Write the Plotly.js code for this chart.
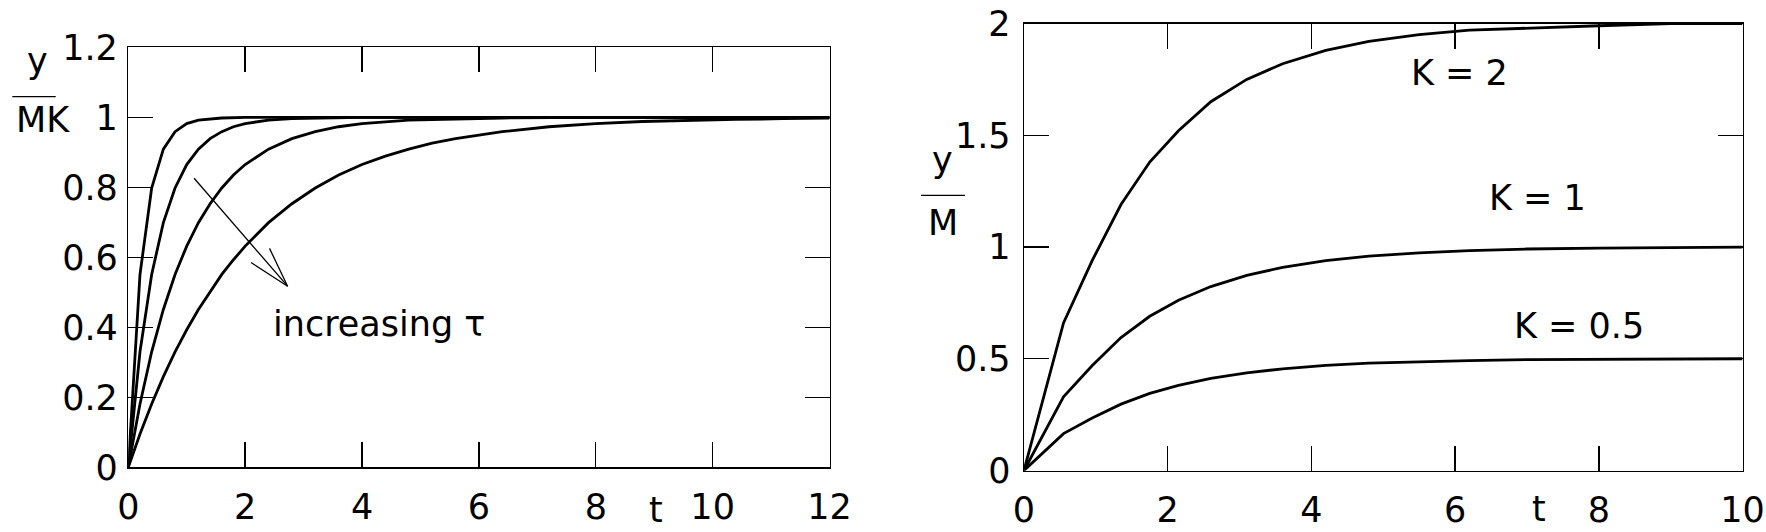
<!DOCTYPE html>
<html>
<head>
<meta charset="utf-8">
<script src="https://cdn.plot.ly/plotly-3.0.1.min.js"></script>
<style>html,body{margin:0;padding:0;background:#fff;}#chart{width:1766px;height:532px;}</style>
</head>
<body>
<div id="chart"></div>
<script>
// Left panel: y/(MK) vs t for four time constants (fastest to slowest)
const tA = [0,0.2,0.4,0.6,0.8,1.0,1.2,1.4,1.6,2.0,12];
const yA = [0,0.551,0.798,0.909,0.959,0.982,0.992,0.996,0.998,1.0,1.0];
const tB = [0,0.2,0.4,0.6,0.8,1.0,1.2,1.4,1.6,1.8,2.0,2.4,2.8,3.2,4.0,12];
const yB = [0,0.330,0.551,0.699,0.798,0.865,0.909,0.939,0.959,0.973,0.982,0.992,0.996,0.998,1.0,1.0];
const tC = [0,0.2,0.4,0.6,0.8,1.0,1.2,1.4,1.6,1.8,2.0,2.4,2.8,3.2,3.6,4.0,4.8,5.6,6.4,8.0,12];
const yC = [0,0.181,0.330,0.451,0.551,0.632,0.699,0.753,0.798,0.835,0.865,0.909,0.939,0.959,0.973,0.982,0.992,0.996,0.998,1.0,1.0];
const tD = [0,0.2,0.4,0.6,0.8,1.0,1.2,1.4,1.6,1.8,2.0,2.4,2.8,3.2,3.6,4.0,4.4,4.8,5.2,5.6,6.0,6.4,7.2,8.0,8.8,9.6,10.4,11.2,12];
const yD = [0,0.095,0.181,0.259,0.330,0.393,0.451,0.503,0.551,0.593,0.632,0.699,0.753,0.798,0.835,0.865,0.889,0.909,0.926,0.939,0.950,0.959,0.973,0.982,0.988,0.992,0.994,0.996,0.998];

// Right panel: y/M vs t for three gains
const tR = [0,0.55,0.95,1.35,1.75,2.15,2.6,3.1,3.6,4.2,4.8,5.5,6.2,7.0,8.0,9.0,10.0];
const yK2 = [0,0.66,0.94,1.19,1.38,1.52,1.65,1.75,1.82,1.88,1.92,1.95,1.97,1.98,1.99,2.0,2.0];
const yK1 = [0,0.33,0.47,0.595,0.69,0.762,0.823,0.873,0.909,0.939,0.959,0.974,0.984,0.991,0.995,0.998,0.999];
const yK05 = [0,0.165,0.235,0.297,0.345,0.381,0.412,0.437,0.455,0.470,0.480,0.487,0.492,0.496,0.498,0.499,0.50];

const leftXTicks = [0,2,4,6,8,10,12];
const leftYTicks = [0,0.2,0.4,0.6,0.8,1,1.2];
const rightXTicks = [0,2,4,6,8,10];
const rightYTicks = [0,0.5,1,1.5,2];

const W = 1766, H = 532;
const FONT = 'DejaVu Sans';
const FS = 35;

function line(x, y, xa, ya) {
  return {x: x, y: y, xaxis: xa, yaxis: ya, type: 'scatter', mode: 'lines',
          line: {color: '#000', width: 2.8}, hoverinfo: 'skip', showlegend: false};
}
const data = [
  line(tA, yA, 'x', 'y'), line(tB, yB, 'x', 'y'), line(tC, yC, 'x', 'y'), line(tD, yD, 'x', 'y'),
  line(tR, yK2, 'x2', 'y2'), line(tR, yK1, 'x2', 'y2'), line(tR, yK05, 'x2', 'y2')
];

function ax(domain, range, ticks, anchor, extra) {
  return Object.assign({
    domain: domain, range: range, anchor: anchor,
    tickmode: 'array', tickvals: ticks, ticktext: ticks.map(String),
    ticks: 'inside', ticklen: 25, tickwidth: 1.4, tickcolor: '#000',
    showline: true, linecolor: '#000', linewidth: 1.4, mirror: 'ticks',
    showgrid: false, zeroline: false, automargin: false,
    tickfont: {family: FONT, size: FS, color: '#000'}, fixedrange: true
  }, extra || {});
}

const px = v => v / W, py = v => 1 - v / H;

const layout = {
  width: W, height: H,
  margin: {l: 0, r: 0, t: 0, b: 0},
  paper_bgcolor: '#fff', plot_bgcolor: '#fff',
  font: {family: FONT, size: FS, color: '#000'},
  showlegend: false,
  xaxis: ax([px(128.3), px(829.5)], [0, 12], leftXTicks, 'y', {ticklabelstandoff: 8}),
  yaxis: ax([1 - 467.3 / H, 1 - 47.3 / H], [0, 1.2], leftYTicks, 'x', {ticklabelstandoff: 2}),
  xaxis2: ax([px(1024), px(1742.5)], [0, 10], rightXTicks, 'y2', {ticklabelstandoff: 8}),
  yaxis2: ax([1 - 470.5 / H, 1 - 23.5 / H], [0, 2], rightYTicks, 'x2', {ticklabelstandoff: 5}),
  shapes: [
    // fraction bars of the axis titles
    {type: 'line', xref: 'paper', yref: 'paper', x0: px(12.3), x1: px(55.7), y0: py(96.7), y1: py(96.7), line: {color: '#000', width: 1.3}},
    {type: 'line', xref: 'paper', yref: 'paper', x0: px(921), x1: px(965), y0: py(195.3), y1: py(195.3), line: {color: '#000', width: 1.3}},
    // "increasing tau" arrow (open head)
    {type: 'line', xref: 'x', yref: 'y', x0: 1.126, y0: 0.826, x1: 2.726, y1: 0.5175, line: {color: '#000', width: 1.3}},
    {type: 'line', xref: 'x', yref: 'y', x0: 2.10, y0: 0.585, x1: 2.726, y1: 0.5175, line: {color: '#000', width: 1.3}},
    {type: 'line', xref: 'x', yref: 'y', x0: 2.417, y0: 0.6255, x1: 2.726, y1: 0.5175, line: {color: '#000', width: 1.3}}
  ],
  annotations: [
    {text: 'y', xref: 'paper', yref: 'paper', x: px(37.5), y: py(61), xanchor: 'center', yanchor: 'middle', showarrow: false},
    {text: 'MK', xref: 'paper', yref: 'paper', x: px(42.5), y: py(120), xanchor: 'center', yanchor: 'middle', showarrow: false},
    {text: 'y', xref: 'paper', yref: 'paper', x: px(942.5), y: py(160), xanchor: 'center', yanchor: 'middle', showarrow: false},
    {text: 'M', xref: 'paper', yref: 'paper', x: px(943), y: py(223), xanchor: 'center', yanchor: 'middle', showarrow: false},
    {text: 't', xref: 'paper', yref: 'paper', x: px(656), y: 0.002, xanchor: 'center', yanchor: 'bottom', showarrow: false, borderpad: 0},
    {text: 't', xref: 'paper', yref: 'paper', x: px(1539), y: 0.004, xanchor: 'center', yanchor: 'bottom', showarrow: false, borderpad: 0},
    {text: 'increasing τ', xref: 'x', yref: 'y', x: 4.29, y: 0.409, xanchor: 'center', yanchor: 'middle', showarrow: false},
    {text: 'K = 2', xref: 'x2', yref: 'y2', x: 6.06, y: 1.78, xanchor: 'center', yanchor: 'middle', showarrow: false},
    {text: 'K = 1', xref: 'x2', yref: 'y2', x: 7.15, y: 1.218, xanchor: 'center', yanchor: 'middle', showarrow: false},
    {text: 'K = 0.5', xref: 'x2', yref: 'y2', x: 7.72, y: 0.645, xanchor: 'center', yanchor: 'middle', showarrow: false}
  ]
};

Plotly.newPlot('chart', data, layout, {displayModeBar: false, staticPlot: true});
</script>
</body>
</html>
